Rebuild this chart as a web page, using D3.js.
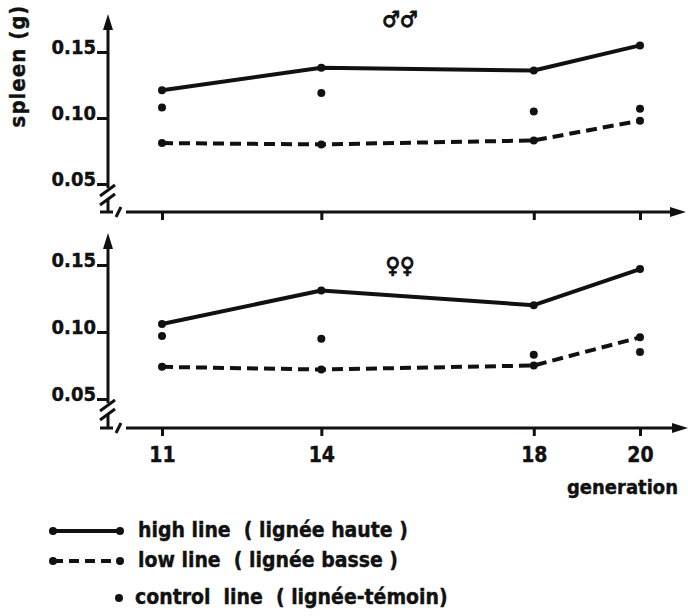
<!DOCTYPE html>
<html>
<head>
<meta charset="utf-8">
<script src="https://cdn.jsdelivr.net/npm/d3@7"></script>
<style>
  body { margin: 0; background: #fff; }
  svg { display: block; font-family: "DejaVu Sans Condensed", "DejaVu Sans", sans-serif; font-weight: bold; font-stretch: condensed; }
  text { fill: #111; stroke: #111; stroke-width: 0.4px; white-space: pre; }
</style>
</head>
<body>
<div class="chart"></div>
<script>
// --- data ---
const generations = [11, 14, 18, 20];
const yTicks = [0.05, 0.10, 0.15];

const maleHigh    = [0.121, 0.138, 0.136, 0.155];
const maleLow     = [0.081, 0.080, 0.083, 0.098];
const maleControl = [0.108, 0.119, 0.105, 0.107];

const femaleHigh    = [0.106, 0.131, 0.120, 0.147];
const femaleLow     = [0.074, 0.072, 0.075, 0.096];
const femaleControl = [0.097, 0.095, 0.083, 0.085];

const legendItems = ["high line  ( lignée haute )", "low line  ( lignée basse )", "control  line  ( lignée-témoin)"];

const W = 688, H = 616;
const ink = "#111";
const font = "'DejaVu Sans Condensed', 'DejaVu Sans', sans-serif";

const svg = d3.select(".chart").append("svg")
  .attr("width", W)
  .attr("height", H);

svg.append("rect").attr("width", W).attr("height", H).attr("fill", "#fff");

// shared x scale (generation)
const x = d3.scaleLinear().domain([11, 20]).range([162, 640]);
const axisX = 108;

const drawPanel = (p) => {
  const y = d3.scaleLinear().domain([0.05, 0.15]).range([p.y05, p.y15]);
  const g = svg.append("g");

  // y axis line with arrow
  g.append("line")
    .attr("x1", axisX).attr("x2", axisX)
    .attr("y1", p.arrowTop + 10).attr("y2", y(0.05) + 4)
    .attr("stroke", ink).attr("stroke-width", 3);
  g.append("path")
    .attr("d", `M${axisX},${p.arrowTop} L${axisX - 5},${p.arrowTop + 16} L${axisX + 5},${p.arrowTop + 16} Z`)
    .attr("fill", ink);

  // y axis break
  const bY = y(0.05);
  g.append("line").attr("x1", axisX).attr("x2", axisX)
    .attr("y1", bY + 15).attr("y2", p.axisY)
    .attr("stroke", ink).attr("stroke-width", 3);
  [[100, bY + 12, 115, bY + 1], [100, bY + 21, 115, bY + 10]].forEach(s => {
    g.append("line").attr("x1", s[0]).attr("y1", s[1]).attr("x2", s[2]).attr("y2", s[3])
      .attr("stroke", ink).attr("stroke-width", 3);
  });

  // y ticks through d3 axis
  const yAxis = g.append("g")
    .attr("transform", `translate(${axisX},0)`)
    .call(d3.axisLeft(y).tickValues(yTicks).tickSize(11).tickPadding(1).tickFormat(d3.format(".2f")));
  yAxis.select(".domain").remove();
  yAxis.selectAll(".tick line").attr("stroke", ink).attr("stroke-width", 3);
  yAxis.selectAll(".tick text")
    .attr("fill", ink)
    .style("font-family", font)
    .style("font-weight", "bold")
    .style("font-size", "20px")
    .attr("dy", "0.05em");

  // x axis line with break and arrow
  g.append("line").attr("x1", 100).attr("x2", 113)
    .attr("y1", p.axisY).attr("y2", p.axisY)
    .attr("stroke", ink).attr("stroke-width", 3);
  g.append("line").attr("x1", 116).attr("y1", p.axisY + 5).attr("x2", 121).attr("y2", p.axisY - 5)
    .attr("stroke", ink).attr("stroke-width", 3);
  g.append("line").attr("x1", 126).attr("x2", 672)
    .attr("y1", p.axisY).attr("y2", p.axisY)
    .attr("stroke", ink).attr("stroke-width", 3);
  g.append("path")
    .attr("d", `M${p.arrowRight},${p.axisY} L${p.arrowRight - 16},${p.axisY - 5} L${p.arrowRight - 16},${p.axisY + 5} Z`)
    .attr("fill", ink);

  const xAxis = g.append("g")
    .attr("transform", `translate(0,${p.axisY})`)
    .call(d3.axisBottom(x).tickValues(generations).tickSize(8).tickPadding(11)
      .tickFormat(p.labels ? d3.format("d") : () => ""));
  xAxis.select(".domain").remove();
  xAxis.selectAll(".tick line").attr("stroke", ink).attr("stroke-width", 3);
  xAxis.selectAll(".tick text")
    .attr("fill", ink)
    .style("font-family", font)
    .style("font-weight", "bold")
    .style("font-size", "21px");

  // series
  const rows = (vals) => generations.map((gen, i) => ({ gen, v: vals[i] }));
  const line = d3.line().x(d => x(d.gen)).y(d => y(d.v));

  g.append("path").datum(rows(p.high))
    .attr("d", line).attr("fill", "none")
    .attr("stroke", ink).attr("stroke-width", 4).attr("stroke-linejoin", "round");
  g.append("path").datum(rows(p.low))
    .attr("d", line).attr("fill", "none")
    .attr("stroke", ink).attr("stroke-width", 4).attr("stroke-dasharray", "11,6");

  [p.high, p.low, p.control].forEach(vals => {
    g.selectAll(null).data(rows(vals)).join("circle")
      .attr("cx", d => x(d.gen)).attr("cy", d => y(d.v))
      .attr("r", 4).attr("fill", ink);
  });

  // sex symbol
  g.append("text")
    .attr("x", 400).attr("y", p.symbolY)
    .attr("text-anchor", "middle")
    .style("font-size", "22px")
    .style("font-family", "'DejaVu Sans', sans-serif")
    .style("stroke-width", "1px")
    .text(p.symbol);
};

drawPanel({
  y05: 184, y15: 52, arrowTop: 14, axisY: 212, arrowRight: 686,
  high: maleHigh, low: maleLow, control: maleControl,
  symbol: "\u2642\u2642", symbolY: 27, labels: false
});

drawPanel({
  y05: 399, y15: 265, arrowTop: 233, axisY: 428, arrowRight: 688,
  high: femaleHigh, low: femaleLow, control: femaleControl,
  symbol: "\u2640\u2640", symbolY: 273, labels: true
});

// axis titles
svg.append("text")
  .attr("transform", "translate(25,66) rotate(-90)")
  .attr("text-anchor", "middle")
  .style("font-size", "22px")
  .style("letter-spacing", "1px")
  .text("spleen (g)");

svg.append("text")
  .attr("x", 678).attr("y", 494)
  .attr("text-anchor", "end")
  .style("font-size", "20px")
  .text("generation");

// legend
const legY = [531, 561, 598];
const lx = d3.scaleLinear().domain([0, 1]).range([53, 120]);

svg.append("line")
  .attr("x1", lx(0)).attr("x2", lx(1)).attr("y1", legY[0]).attr("y2", legY[0])
  .attr("stroke", ink).attr("stroke-width", 4);
svg.append("line")
  .attr("x1", lx(0)).attr("x2", lx(1)).attr("y1", legY[1]).attr("y2", legY[1])
  .attr("stroke", ink).attr("stroke-width", 4).attr("stroke-dasharray", "10,6");
[[0, 0], [1, 0], [0, 1], [1, 1]].forEach(([i, r]) => {
  svg.append("circle").attr("cx", lx(i)).attr("cy", legY[r]).attr("r", 4).attr("fill", ink);
});
svg.append("circle").attr("cx", 119).attr("cy", legY[2]).attr("r", 4).attr("fill", ink);

svg.selectAll(".leg").data(legendItems).join("text")
  .attr("class", "leg")
  .attr("x", (d, i) => i === 2 ? 135 : 138)
  .attr("y", (d, i) => legY[i])
  .attr("dy", "0.3em")
  .style("font-size", "21px")
  .text(d => d);
</script>
</body>
</html>
